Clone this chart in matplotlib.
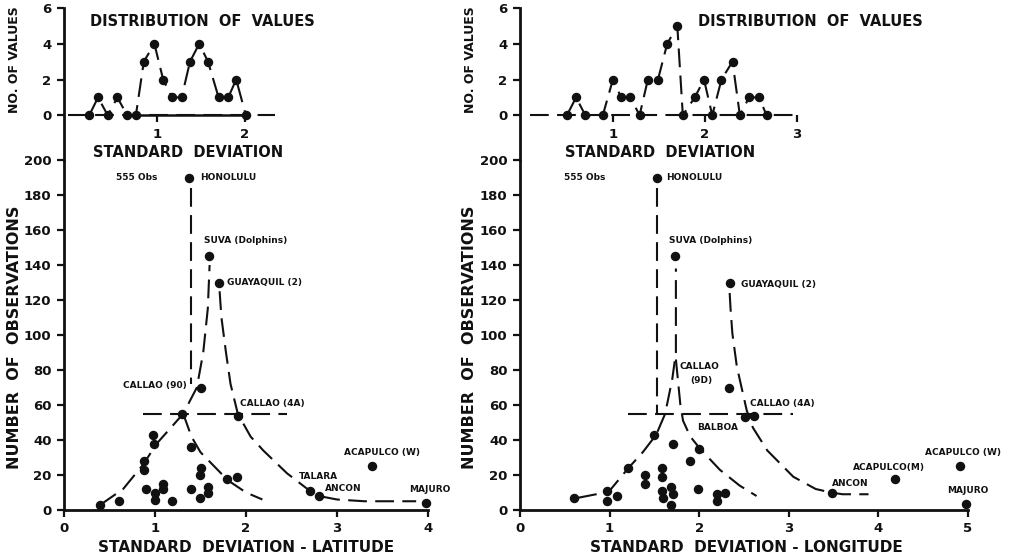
import matplotlib
matplotlib.use("Agg")
import matplotlib.pyplot as plt

plt.rcParams['font.family'] = ['DejaVu Sans']
plt.rcParams['font.weight'] = 'bold'

W, H = 1027, 556

# ---- distribution of values (upper small plots) ----
lat_sd = [0.23, 0.33, 0.44, 0.55, 0.66, 0.76, 0.85, 0.97, 1.07, 1.17, 1.28, 1.375,
          1.48, 1.58, 1.70, 1.81, 1.90, 2.01]
lat_count = [0, 1, 0, 1, 0, 0, 3, 4, 2, 1, 1, 3, 4, 3, 1, 1, 2, 0]
lon_sd = [0.50, 0.60, 0.70, 0.89, 1.00, 1.09, 1.19, 1.29, 1.38, 1.49, 1.59, 1.70,
          1.76, 1.89, 1.99, 2.08, 2.18, 2.30, 2.38, 2.48, 2.59, 2.67]
lon_count = [0, 1, 0, 0, 2, 1, 1, 0, 2, 2, 4, 5, 0, 1, 2, 0, 2, 3, 0, 1, 1, 0]

# ---- stations: standard deviation vs number of observations ----
lat_x = [0.40, 0.60, 0.88, 0.88, 0.98, 0.99, 0.90, 1.00, 1.00, 1.09, 1.09, 1.19,
         1.30, 1.40, 1.40, 1.50, 1.49, 1.49, 1.58, 1.58, 1.50, 1.79, 1.90, 1.91,
         2.70, 2.80, 3.39, 3.98, 1.37, 1.59, 1.70]
lat_n = [3, 5, 28, 23, 43, 38, 12, 10, 6, 15, 12, 5,
         55, 36, 12, 24, 20, 7, 13, 10, 70, 18, 19, 54,
         11, 8, 25, 4, 190, 145, 130]

lon_x = [0.60, 0.97, 0.97, 1.08, 1.20, 1.39, 1.39, 1.50, 1.58, 1.59, 1.58, 1.60,
         1.69, 1.71, 1.68, 1.71, 1.90, 2.00, 1.99, 2.20, 2.20, 2.29, 2.33, 2.51,
         2.61, 3.48, 4.19, 4.91, 4.98, 1.53, 1.73, 2.34]
lon_n = [7, 11, 5, 8, 24, 20, 15, 43, 24, 19, 11, 7,
         13, 9, 3, 38, 28, 35, 12, 9, 5, 10, 70, 53,
         54, 10, 18, 25, 3.5, 190, 145, 130]

# ---- hand drawn dashed limit curves ----
lat_vert = ([1.40, 1.40], [184, 72])
lat_rise = ([0.40, 0.65, 0.87, 1.02, 1.31, 1.46, 1.53, 1.58, 1.60],
            [3, 12, 26, 38, 55, 70, 90, 115, 140])
lat_inner = ([1.31, 1.40, 1.50, 1.65, 1.80, 2.00, 2.18],
             [55, 42, 33, 25, 17, 10, 6])
lat_outer = ([1.71, 1.73, 1.78, 1.83, 1.91, 2.05, 2.19, 2.45, 2.70, 2.80, 3.00, 3.30, 3.87],
             [125, 110, 90, 72, 55, 42, 34, 21, 11, 8, 6, 5, 5])
lat_horiz = ([0.87, 2.45], [55, 55])

lon_vert = ([1.53, 1.53], [184, 55])
lon_rise = ([0.65, 0.85, 1.00, 1.21, 1.37, 1.52, 1.62, 1.70, 1.74, 1.74],
            [7, 9, 11, 24, 33, 43, 55, 75, 90, 138])
lon_inner = ([1.74, 1.79, 1.82, 1.90, 2.01, 2.23, 2.45, 2.64],
             [86, 60, 51, 42, 35, 23, 14, 8])
lon_outer = ([2.34, 2.35, 2.37, 2.42, 2.53, 2.60, 2.76, 3.05, 3.30, 3.47, 3.60, 3.89],
             [124, 115, 101, 82, 57, 47, 34, 19, 12, 10, 9, 9])
lon_horiz = ([1.21, 3.05], [55, 55])

# ---- station names ----
lat_labels = ["555 Obs", "HONOLULU", "SUVA (Dolphins)", "GUAYAQUIL (2)", "CALLAO (90)",
              "CALLAO (4A)", "TALARA", "ANCON", "ACAPULCO (W)", "MAJURO"]
lat_label_xy = [(1.03, 190, 'right'), (1.50, 190, 'left'), (1.54, 154, 'left'),
                (1.79, 130, 'left'), (1.35, 71, 'right'), (1.93, 61, 'left'),
                (2.58, 19, 'left'), (2.87, 12.5, 'left'), (3.08, 33, 'left'),
                (3.79, 11.5, 'left')]
lon_labels = ["555 Obs", "HONOLULU", "SUVA (Dolphins)", "GUAYAQUIL (2)", "CALLAO",
              "(9D)", "CALLAO (4A)", "BALBOA", "ANCON", "ACAPULCO(M)", "ACAPULCO (W)",
              "MAJURO"]
lon_label_xy = [(0.95, 190, 'right'), (1.63, 190, 'left'), (1.66, 154, 'left'),
                (2.47, 129, 'left'), (1.78, 82, 'left'), (1.90, 74, 'left'),
                (2.57, 61, 'left'), (1.98, 47, 'left'), (3.48, 15, 'left'),
                (3.72, 24.5, 'left'), (4.52, 33, 'left'), (4.77, 11, 'left')]


def rect(x0, y0, x1, y1):
    return [x0 / W, 1 - y1 / H, (x1 - x0) / W, (y1 - y0) / H]


fig = plt.figure(figsize=(W / 100, H / 100), dpi=100)

DASH = (9, 4)
LW = 1.5
K = '#111111'


def main_panel(ax, xmax, xs, ns, curves, labels, label_xy, xlabel, xc):
    for cx, cy in curves:
        ax.plot(cx, cy, color=K, lw=LW, dashes=DASH, solid_capstyle='butt')
    ax.plot(xs, ns, 'o', color=K, ms=5.8, clip_on=False, zorder=3)
    for t, (x, y, ha) in zip(labels, label_xy):
        ax.text(x, y, t, fontsize=6.5, ha=ha, va='center', color=K)
    ax.set_xlim(0, xmax)
    ax.set_ylim(0, 200)
    ax.set_xticks(range(0, xmax + 1))
    ax.set_yticks(range(0, 201, 20))
    for s in ['top', 'right']:
        ax.spines[s].set_visible(False)
    for s in ['left', 'bottom']:
        ax.spines[s].set_linewidth(2)
        ax.spines[s].set_color(K)
    ax.tick_params(direction='out', length=5, width=1.6, labelsize=9.5, colors=K, pad=4)
    fig.text(xc / W, 1 - 548 / H, xlabel, fontsize=11, ha='center', va='center', color=K)


def inset_panel(ax, xlim, sd, cnt, base, xticks, spine_bounds, title, tc, sc):
    ax.plot(base, [0, 0], color=K, lw=LW, dashes=DASH)
    ax.plot(sd, cnt, color=K, lw=LW, dashes=DASH)
    ax.plot(sd, cnt, 'o', color=K, ms=5.8, zorder=3)
    ax.set_xlim(*xlim)
    ax.set_ylim(-2.5, 6)
    ax.set_yticks([0, 2, 4, 6])
    ax.set_xticks(xticks)
    for s in ['top', 'right']:
        ax.spines[s].set_visible(False)
    ax.spines['left'].set_linewidth(2)
    ax.spines['left'].set_color(K)
    ax.spines['bottom'].set_position(('data', 0))
    ax.spines['bottom'].set_color(K)
    ax.spines['bottom'].set_linewidth(1.8)
    if spine_bounds is None:
        ax.spines['bottom'].set_visible(False)
    else:
        ax.spines['bottom'].set_bounds(*spine_bounds)
    ax.tick_params(direction='out', length=5, width=1.6, labelsize=9.5, colors=K, pad=4)
    fig.text(tc / W, 1 - 22 / H, title, fontsize=10.5, ha='center', va='center', color=K)
    fig.text(sc / W, 1 - 152 / H, "STANDARD  DEVIATION", fontsize=10.5, ha='center',
             va='center', color=K)


# latitude
ax1 = fig.add_axes(rect(64, 160, 428, 510))
main_panel(ax1, 4, lat_x, lat_n, [lat_vert, lat_rise, lat_inner, lat_outer, lat_horiz],
           lat_labels, lat_label_xy, "STANDARD  DEVIATION - LATITUDE", 246)
ax1i = fig.add_axes(rect(64, 8, 428, 160))
inset_panel(ax1i, (-0.057, 4.08), lat_sd, lat_count, [-0.01, 2.34], [1, 2], (0.76, 2.0),
            "DISTRIBUTION  OF  VALUES", 202, 188)

# longitude
ax2 = fig.add_axes(rect(520, 160, 968, 510))
main_panel(ax2, 5, lon_x, lon_n, [lon_vert, lon_rise, lon_inner, lon_outer, lon_horiz],
           lon_labels, lon_label_xy, "STANDARD  DEVIATION - LONGITUDE", 746)
ax2i = fig.add_axes(rect(520, 8, 968, 160))
inset_panel(ax2i, (-0.01, 4.86), lon_sd, lon_count, [0.1, 3.0], [1, 2, 3], None,
            "DISTRIBUTION  OF  VALUES", 810, 660)

for xp in (15, 470):
    fig.text(xp / W, 1 - 60 / H, "NO. OF VALUES", rotation=90, fontsize=9,
             ha='center', va='center', color=K)
    fig.text(xp / W, 1 - 337 / H, "NUMBER  OF  OBSERVATIONS", rotation=90, fontsize=11.5,
             ha='center', va='center', color=K)

fig.savefig("out.png", dpi=100, facecolor='white')
